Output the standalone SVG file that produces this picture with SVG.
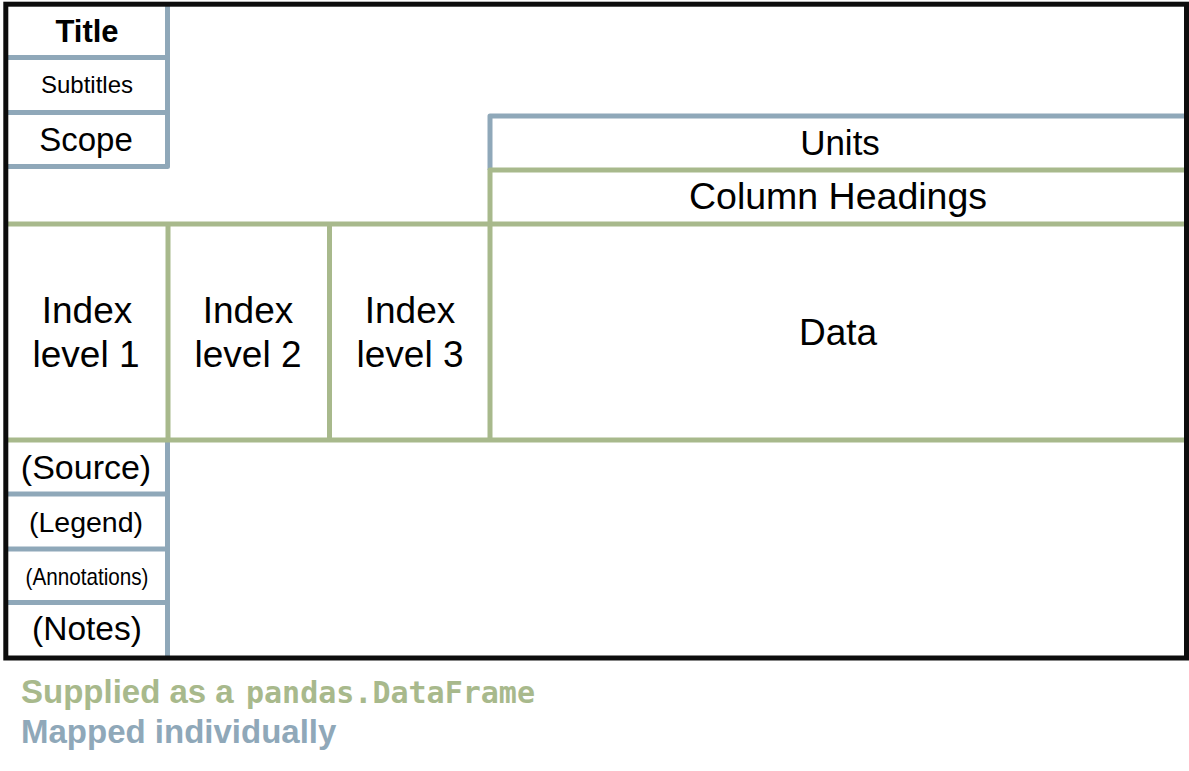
<svg xmlns="http://www.w3.org/2000/svg" width="1189" height="771" viewBox="0 0 1189 771">
<style>
.blue{stroke:#8fa8b9;stroke-width:5;fill:none;stroke-linejoin:round}
.green{stroke:#a8b98c;stroke-width:5;fill:none;stroke-linejoin:round}
.frame{stroke:#0d0d0d;stroke-width:5;fill:none}
text{font-family:"Liberation Sans",Arial,sans-serif;fill:#000;text-anchor:middle}
.b{font-weight:bold}
.leg{text-anchor:start;font-weight:bold}
.mono{font-family:"DejaVu Sans Mono","Liberation Mono",monospace;font-weight:bold}
</style>
<rect x="0" y="0" width="1189" height="771" fill="#fff"/>
<g id="connectors">
<path class="blue" d="M6 57.5H167.5M6 112.5H167.5M6 166.5H167.5V4"/>
<path class="blue" d="M490 170V116H1186"/>
<path class="blue" d="M167.5 440V658M6 494H167.5M6 549H167.5M6 602.5H167.5"/>
<path class="green" d="M490 440V170H1186M6 224H1186M6 440H1186M168 224V440M329.5 224V440"/>
<rect class="frame" x="5.8" y="4.2" width="1180.7" height="653.8"/>
</g>
<g id="title"><text class="b" x="87" y="42" font-size="31">Title</text></g>
<g id="subtitles"><text x="87" y="93" font-size="24">Subtitles</text></g>
<g id="scope"><text x="86" y="151" font-size="33">Scope</text></g>
<g id="units"><text x="840" y="155" font-size="35">Units</text></g>
<g id="column-headings"><text x="838" y="209" font-size="37.5">Column Headings</text></g>
<g id="index1"><text x="87" y="323" font-size="37">Index</text><text x="86" y="367" font-size="37">level 1</text></g>
<g id="index2"><text x="248" y="323" font-size="37">Index</text><text x="248" y="367" font-size="37">level 2</text></g>
<g id="index3"><text x="410" y="323" font-size="37">Index</text><text x="410" y="367" font-size="37">level 3</text></g>
<g id="data"><text x="838" y="345" font-size="37">Data</text></g>
<g id="source"><text x="86" y="479" font-size="34">(Source)</text></g>
<g id="legend"><text x="86" y="532" font-size="28.5">(Legend)</text></g>
<g id="annotations"><text x="87" y="585" font-size="24" textLength="123" lengthAdjust="spacingAndGlyphs">(Annotations)</text></g>
<g id="notes"><text x="87" y="640" font-size="33.5">(Notes)</text></g>
<g id="key">
<text class="leg" x="21" y="703" font-size="33" style="fill:#a8b98c">Supplied as a <tspan class="mono" x="246" font-size="30">pandas.DataFrame</tspan></text>
<text class="leg" x="21" y="743" font-size="33" style="fill:#8fa8b9">Mapped individually</text>
</g>
</svg>
